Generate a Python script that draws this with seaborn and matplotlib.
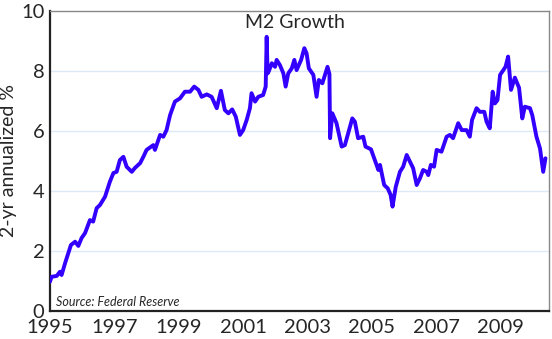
import matplotlib
matplotlib.use("Agg")
import matplotlib.pyplot as plt
import seaborn as sns
import pandas as pd
from matplotlib.ticker import MultipleLocator

years = [1995.00, 1995.05, 1995.21, 1995.31, 1995.36, 1995.47, 1995.65, 1995.78, 1995.88, 1995.98,
         1996.09, 1996.24, 1996.34, 1996.45, 1996.55, 1996.71, 1996.86, 1996.97, 1997.07, 1997.17,
         1997.28, 1997.38, 1997.54, 1997.64, 1997.80, 1997.90, 1998.00, 1998.21, 1998.26, 1998.42,
         1998.52, 1998.62, 1998.73, 1998.88, 1999.04, 1999.19, 1999.35, 1999.48, 1999.61, 1999.71,
         1999.87, 2000.02, 2000.18, 2000.31, 2000.43, 2000.54, 2000.66, 2000.77, 2000.90, 2001.00,
         2001.11, 2001.21, 2001.26, 2001.37, 2001.47, 2001.62, 2001.70, 2001.73, 2001.76, 2001.80,
         2001.89, 2001.99, 2002.04, 2002.14, 2002.25, 2002.32, 2002.40, 2002.51, 2002.59, 2002.66,
         2002.80, 2002.90, 2002.97, 2003.04, 2003.18, 2003.28, 2003.35, 2003.46, 2003.54, 2003.62,
         2003.68, 2003.70, 2003.77, 2003.90, 2004.06, 2004.16, 2004.26, 2004.39, 2004.47, 2004.57,
         2004.73, 2004.80, 2004.97, 2005.09, 2005.20, 2005.25, 2005.38, 2005.49, 2005.58, 2005.64,
         2005.74, 2005.87, 2005.97, 2006.08, 2006.18, 2006.28, 2006.39, 2006.49, 2006.59, 2006.70,
         2006.75, 2006.83, 2006.93, 2007.01, 2007.16, 2007.32, 2007.42, 2007.52, 2007.68, 2007.79,
         2007.94, 2008.04, 2008.11, 2008.25, 2008.35, 2008.49, 2008.56, 2008.66, 2008.75, 2008.82,
         2008.90, 2008.98, 2009.08, 2009.15, 2009.23, 2009.32, 2009.44, 2009.57, 2009.67, 2009.75,
         2009.91, 2009.98, 2010.11, 2010.22, 2010.32, 2010.39]

growth = [0.98, 1.14, 1.17, 1.31, 1.20, 1.60, 2.20, 2.31, 2.17, 2.43,
          2.60, 3.03, 2.98, 3.43, 3.53, 3.81, 4.31, 4.60, 4.64, 5.03,
          5.14, 4.81, 4.64, 4.77, 4.93, 5.14, 5.37, 5.53, 5.37, 5.87,
          5.81, 6.03, 6.53, 6.98, 7.09, 7.31, 7.31, 7.48, 7.37, 7.14,
          7.22, 7.14, 6.76, 7.34, 6.70, 6.59, 6.72, 6.48, 5.87, 6.03,
          6.37, 6.76, 7.26, 6.98, 7.14, 7.20, 7.48, 9.14, 7.92, 8.00,
          8.26, 8.14, 8.37, 8.20, 7.92, 7.48, 7.92, 8.09, 8.37, 8.03,
          8.37, 8.76, 8.59, 8.09, 7.87, 7.14, 7.70, 7.59, 7.87, 8.14,
          7.90, 5.76, 6.59, 6.26, 5.48, 5.53, 5.92, 6.42, 6.31, 5.76,
          5.81, 5.48, 5.39, 5.03, 4.70, 4.87, 4.20, 4.09, 3.87, 3.48,
          4.14, 4.64, 4.81, 5.20, 4.98, 4.76, 4.20, 4.42, 4.70, 4.64,
          4.53, 4.87, 4.81, 5.37, 5.31, 5.81, 5.87, 5.76, 6.26, 6.03,
          6.03, 5.81, 6.37, 6.76, 6.64, 6.64, 6.31, 6.09, 7.31, 6.92,
          7.03, 7.87, 8.03, 8.14, 8.48, 7.37, 7.78, 7.44, 6.42, 6.81,
          6.76, 6.53, 5.81, 5.42, 4.64, 5.09]

x_ticks = list(range(1995, 2010, 2))
y_ticks = [0, 2, 4, 6, 8, 10]

df = pd.DataFrame({"year": years, "growth": growth})

sns.set_style("white")
plt.rcParams['font.family'] = ['Lato', 'DejaVu Sans']

fig = plt.figure(figsize=(5.52, 3.39), dpi=100)
ax = fig.add_axes([50/552, 1 - 311/339, 499/552, 300/339])

sns.lineplot(data=df, x="year", y="growth", ax=ax, color="#3300ff", linewidth=2.8, zorder=3)

ax.set_xlim(1995, 2010.5)
ax.set_ylim(0, 10)
ax.set_xticks(x_ticks)
ax.set_xticklabels([str(t) for t in x_ticks], fontsize=14.5)
ax.xaxis.set_minor_locator(MultipleLocator(1))
ax.set_yticks(y_ticks)
ax.set_yticklabels([str(t) for t in y_ticks], fontsize=14.5)
ax.yaxis.set_minor_locator(MultipleLocator(1))
ax.tick_params(axis='both', which='both', direction='out', length=3, width=0.8, color='#555555', pad=3)
ax.tick_params(axis='y', which='major', length=0, pad=4)

for y in [2, 4, 6, 8]:
    ax.axhline(y, color='#dde9f7', lw=1, zorder=1)

for s in ['left', 'bottom']:
    ax.spines[s].set_color('#222222')
    ax.spines[s].set_linewidth(1.6)
for s in ['top', 'right']:
    ax.spines[s].set_color('#888888')
    ax.spines[s].set_linewidth(1.0)

ax.set_xlabel("")
ax.set_ylabel("2-yr annualized %", fontsize=14, labelpad=3)

ax.text(0.491, 0.963, "M2 Growth", transform=ax.transAxes, ha='center', va='center', fontsize=14)
ax.text(0.012, 0.03, "Source: Federal Reserve", transform=ax.transAxes, ha='left', va='center',
        fontsize=9, style='italic')

fig.savefig("out.png", dpi=100)
